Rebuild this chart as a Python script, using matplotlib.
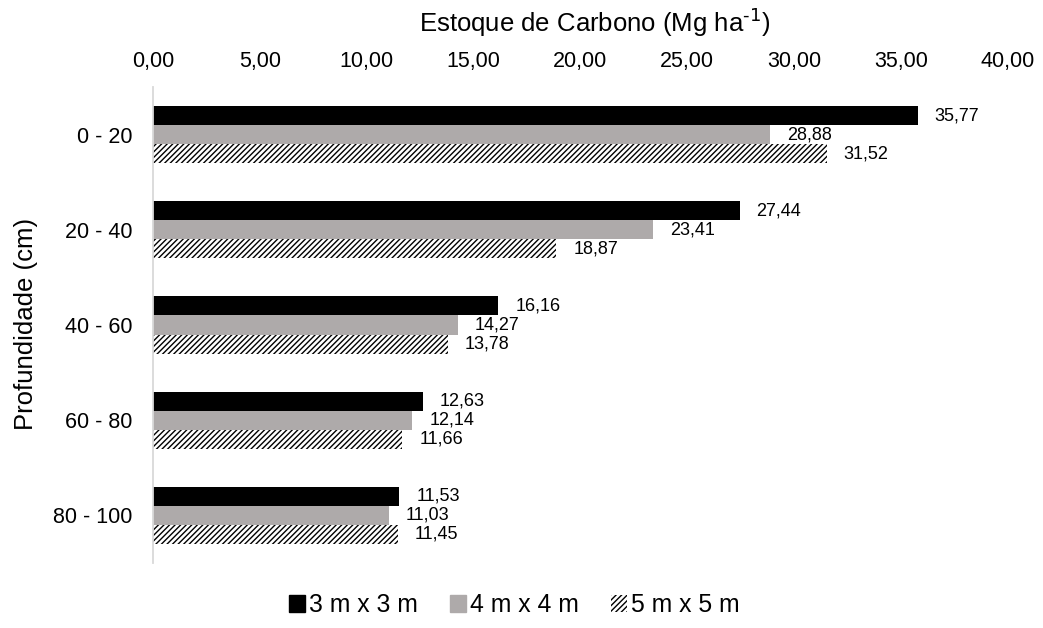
import matplotlib.pyplot as plt
import matplotlib.patches as mpatches
import numpy as np
from matplotlib.ticker import FuncFormatter

plt.rcParams['font.family'] = ['Liberation Sans', 'DejaVu Sans']
plt.rcParams['hatch.linewidth'] = 1.0

depths = ['0 - 20', '20 - 40', '40 - 60', '60 - 80', '80 - 100']
series = ['3 m x 3 m', '4 m x 4 m', '5 m x 5 m']
s3x3 = [35.77, 27.44, 16.16, 12.63, 11.53]
s4x4 = [28.88, 23.41, 14.27, 12.14, 11.03]
s5x5 = [31.52, 18.87, 13.78, 11.66, 11.45]
x_ticks = [0, 5, 10, 15, 20, 25, 30, 35, 40]

gray = '#AEAAAA'

fig = plt.figure(figsize=(10.43, 6.28), dpi=100)
ax = fig.add_axes([0.1467, 0.1035, 0.8197, 0.758])

y = np.arange(len(depths))
h = 0.2
styles = [
    dict(color='black'),
    dict(color=gray),
    dict(facecolor='white', edgecolor='black', hatch='//////', linewidth=0),
]
for i, (vals, st) in enumerate(zip([s3x3, s4x4, s5x5], styles)):
    bars = ax.barh(y + (i - 1) * h, vals, height=h, **st)
    for b, v in zip(bars, vals):
        ax.text(v + 0.8, b.get_y() + b.get_height() / 2, f'{v:.2f}'.replace('.', ','),
                va='center', ha='left', fontsize=13)

ax.set_ylim(4.5, -0.5)
ax.set_xlim(0, 40)
ax.set_yticks(y)
ax.set_yticklabels(depths, fontsize=15.5)
ax.set_xticks(x_ticks)
ax.xaxis.set_major_formatter(FuncFormatter(lambda v, p: f'{v:.2f}'.replace('.', ',')))
ax.xaxis.tick_top()
ax.tick_params(axis='x', labelsize=15.5, length=0, pad=11)
ax.tick_params(axis='y', length=0, pad=15)
for s in ['top', 'right', 'bottom']:
    ax.spines[s].set_visible(False)
ax.spines['left'].set_color('#D9D9D9')
ax.spines['left'].set_linewidth(1.3)

fig.text(595 / 1043, 1 - 32 / 628, 'Estoque de Carbono (Mg ha$^{\\text{-1}}$)',
         fontsize=18.5, ha='center', va='baseline')
fig.text(26 / 1043, 1 - 324 / 628, 'Profundidade (cm)', fontsize=18.5,
         rotation=90, ha='center', va='center')

handles = [
    mpatches.Patch(color='black'),
    mpatches.Patch(color=gray),
    mpatches.Patch(facecolor='white', edgecolor='black', hatch='//////', linewidth=0),
]
fig.legend(handles, series, loc='center', bbox_to_anchor=(0.493, 1 - 605 / 628), ncol=3,
           frameon=False, fontsize=17.8, handlelength=0.65, handleheight=0.65,
           handletextpad=0.15, columnspacing=1.3)

fig.savefig('out.png', dpi=100)
